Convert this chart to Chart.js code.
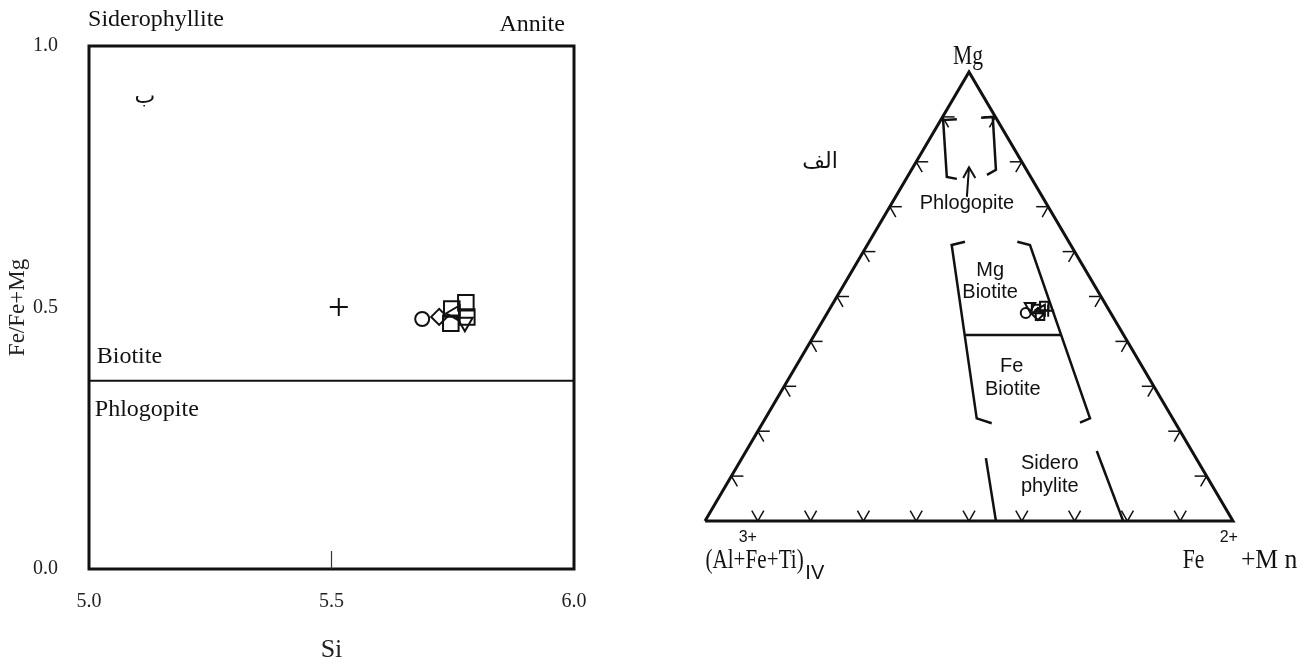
<!DOCTYPE html>
<html><head><meta charset="utf-8">
<script src="https://cdn.jsdelivr.net/npm/chart.js@4.4.1/dist/chart.umd.min.js"></script>
<style>
html,body{margin:0;padding:0;background:#fff;width:1307px;height:666px;overflow:hidden}
#c1{position:absolute;left:0;top:0}
#c2{position:absolute;left:640px;top:0}
</style></head><body>
<canvas id="c1" width="640" height="666"></canvas>
<canvas id="c2" width="667" height="666"></canvas>
<script>
// ===== Left panel: Si vs Fe/(Fe+Mg) =====
const siTicks = [5.0, 5.5, 6.0];
const feTicks = [0.0, 0.5, 1.0];
const biotiteBoundary = 0.36;
const circleSi = [5.687],  circleFe = [0.478];
const diamondSi = [5.722], diamondFe = [0.482];
const squareSi = [5.748, 5.777, 5.746, 5.779], squareFe = [0.497, 0.509, 0.470, 0.482];
const leftTriSi = [5.755], leftTriFe = [0.489];
const downTriSi = [5.775], downTriFe = [0.472];
const plusSi = [5.515], plusFe = [0.501];

// ===== Right panel: ternary Mg – (Al+Fe3+ +Ti)IV – Fe2+ +Mn =====
// each sample: [Mg, Fe2+Mn, AlFeTi]
const circleTern  = [[0.463, 0.376, 0.161]];
const downTriTern = [[0.479, 0.376, 0.145]];
const squareTern  = [[0.472, 0.391, 0.137], [0.479, 0.403, 0.118], [0.457, 0.406, 0.137]];
const diamondTern = [[0.461, 0.400, 0.139]];
const leftTriTern = [[0.470, 0.403, 0.127]];
const plusTern    = [[0.468, 0.416, 0.116]];
const edgeTicks = [0.1, 0.2, 0.3, 0.4, 0.5, 0.6, 0.7, 0.8, 0.9];
// field outlines in diagram coordinates (x along base, y = height fraction)
const triangleOutline = [[0,0],[1,0],[0.5,1],[0,0]];
const phlogLeft  = [[0.477,0.895],[0.451,0.893],[0.458,0.766],[0.477,0.762]];
const phlogRight = [[0.523,0.898],[0.545,0.900],[0.551,0.782],[0.534,0.771]];
const phlogArrowShaft = [[0.496,0.722],[0.500,0.788]];
const phlogArrowHead  = [[0.489,0.764],[0.500,0.788],[0.512,0.764]];
const biotiteLeft  = [[0.4924,0.6221],[0.4672,0.6147],[0.5146,0.2287],[0.5430,0.2176]];
const biotiteRight = [[0.5915,0.6221],[0.6155,0.6147],[0.7292,0.2287],[0.7102,0.2189]];
const biotiteDivider = [[0.4928,0.4143],[0.6742,0.4143]];
const sideroLeft  = [[0.532,0.140],[0.551,0.0]];
const sideroRight = [[0.742,0.156],[0.792,0.0]];

const SERIF = '"Liberation Serif", "Times New Roman", serif';
const SANS = '"Liberation Sans", Arial, sans-serif';
const ARAB = '"DejaVu Sans", "Noto Sans", sans-serif';

function pts(xs, ys){ return xs.map((v,i)=>({x:v, y:ys[i]})); }
function tern(arr){ return arr.map(([mg,fe])=>({x: fe + mg/2, y: mg})); }
function xy(arr){ return arr.map(([a,b])=>({x:a, y:b})); }

function drawText(ctx, t, px, py, o){
  ctx.save();
  ctx.font = o.font;
  ctx.fillStyle = '#111';
  ctx.textBaseline = 'middle';
  ctx.textAlign = o.align || 'left';
  ctx.translate(px, py);
  ctx.scale(o.sx || 1, 1);
  ctx.fillText(t, 0, 0);
  ctx.restore();
}

function marker(data, style, r, rot){
  return {type:'scatter', data, pointStyle: style, pointRadius: r, pointRotation: rot||0,
    borderColor:'#111', backgroundColor:'rgba(0,0,0,0)', pointBorderWidth: 2, borderWidth:2, clip:false};
}
function line(data, w){
  return {type:'scatter', data, showLine:true, borderColor:'#111', borderWidth:w||2, pointRadius:0, fill:false, clip:false};
}

// ---- left labels (data coords) ----
const leftLabels = [
  {t:'Siderophyllite', x:4.998, y:1.050, font:'24px '+SERIF, align:'left'},
  {t:'Annite', x:5.981, y:1.040, font:'24px '+SERIF, align:'right'},
  {t:'ب', x:5.115, y:0.902, font:'22px '+ARAB, align:'center'},
  {t:'Biotite', x:5.016, y:0.405, font:'24px '+SERIF, align:'left'},
  {t:'Phlogopite', x:5.012, y:0.304, font:'24px '+SERIF, align:'left'}
];

const leftPlugin = {
  id:'leftDeco',
  afterDatasetsDraw(chart){
    const {ctx, chartArea:a, scales:{x,y}} = chart;
    ctx.save();
    ctx.strokeStyle = '#111'; ctx.lineWidth = 3;
    ctx.strokeRect(a.left, a.top, a.right-a.left, a.bottom-a.top);
    const tx = x.getPixelForValue(siTicks[1]);
    ctx.lineWidth = 1.2; ctx.strokeStyle = '#333';
    ctx.beginPath(); ctx.moveTo(tx, a.bottom - 18); ctx.lineTo(tx, a.bottom); ctx.stroke();
    ctx.restore();
    leftLabels.forEach(l => drawText(ctx, l.t, x.getPixelForValue(l.x), y.getPixelForValue(l.y), l));
  }
};

new Chart(document.getElementById('c1'), {
  type:'scatter',
  data:{datasets:[
    line([{x:siTicks[0], y:biotiteBoundary},{x:siTicks[2], y:biotiteBoundary}], 2),
    marker(pts(circleSi, circleFe), 'circle', 7),
    marker(pts(diamondSi, diamondFe), 'rectRot', 8),
    marker(pts(squareSi, squareFe), 'rect', 11),
    marker(pts(leftTriSi, leftTriFe), 'triangle', 9, -90),
    marker(pts(downTriSi, downTriFe), 'triangle', 9, 180),
    marker(pts(plusSi, plusFe), 'cross', 9)
  ]},
  options:{
    responsive:false, animation:false, devicePixelRatio:1,
    layout:{padding:{left:0, top:46, right:66, bottom:0}},
    plugins:{legend:{display:false}, tooltip:{enabled:false}},
    scales:{
      x:{type:'linear', min:5, max:6,
        afterBuildTicks: s => { s.ticks = siTicks.map(v=>({value:v})); },
        afterFit: s => { s.height = 97; },
        grid:{display:false, drawTicks:false}, border:{display:false},
        ticks:{padding:21, color:'#222', font:{family:SERIF, size:20}, callback:v=>Number(v).toFixed(1)},
        title:{display:true, text:'Si', color:'#222', font:{family:SERIF, size:26}, padding:{top:0,bottom:0}}
      },
      y:{type:'linear', min:0, max:1,
        afterBuildTicks: s => { s.ticks = feTicks.map(v=>({value:v})); },
        afterFit: s => { s.width = 89; },
        grid:{display:false, drawTicks:false}, border:{display:false},
        ticks:{padding:31, color:'#222', font:{family:SERIF, size:20}, callback:v=>Number(v).toFixed(1)},
        title:{display:true, text:'Fe/Fe+Mg', color:'#222', font:{family:SERIF, size:23}, padding:{top:4,bottom:0}}
      }
    }
  },
  plugins:[leftPlugin]
});

// ---- right labels (diagram coords) ----
const rightLabels = [
  {t:'Mg', x:0.498, y:1.033, font:'27px '+SERIF, align:'center', sx:0.8},
  {t:'الف', x:0.218, y:0.800, font:'22px '+ARAB, align:'center'},
  {t:'Phlogopite', x:0.496, y:0.708, font:'20px '+SANS, align:'center'},
  {t:'Mg', x:0.540, y:0.559, font:'20px '+SANS, align:'center'},
  {t:'Biotite', x:0.540, y:0.508, font:'20px '+SANS, align:'center'},
  {t:'Fe', x:0.581, y:0.345, font:'20px '+SANS, align:'center'},
  {t:'Biotite', x:0.583, y:0.292, font:'20px '+SANS, align:'center'},
  {t:'Sidero', x:0.653, y:0.129, font:'20px '+SANS, align:'center'},
  {t:'phylite', x:0.653, y:0.076, font:'20px '+SANS, align:'center'},
  {t:'(Al+Fe', x:0.001, y:-0.089, font:'27px '+SERIF, align:'left', sx:0.78},
  {t:'3+', x:0.081, y:-0.036, font:'16px '+SANS, align:'center'},
  {t:'+Ti)', x:0.117, y:-0.089, font:'27px '+SERIF, align:'left', sx:0.78},
  {t:'IV', x:0.190, y:-0.116, font:'20px '+SANS, align:'left'},
  {t:'Fe', x:0.905, y:-0.089, font:'27px '+SERIF, align:'left', sx:0.8},
  {t:'2+', x:0.992, y:-0.036, font:'16px '+SANS, align:'center'},
  {t:'+M n', x:1.122, y:-0.089, font:'27px '+SERIF, align:'right', sx:0.95}
];

const rightPlugin = {
  id:'ternDeco',
  afterDatasetsDraw(chart){
    const {ctx, scales:{x,y}} = chart;
    ctx.save();
    ctx.strokeStyle = '#111'; ctx.lineWidth = 1.5;
    const L = 12, h = L*0.866;
    const seg = (px,py,dx,dy)=>{ ctx.beginPath(); ctx.moveTo(px,py); ctx.lineTo(px+dx,py+dy); ctx.stroke(); };
    edgeTicks.forEach(f=>{
      let px = x.getPixelForValue(f), py = y.getPixelForValue(0);
      seg(px,py,-L/2,-h); seg(px,py,L/2,-h);
      px = x.getPixelForValue(f/2); py = y.getPixelForValue(f);
      seg(px,py,L,0); seg(px,py,L/2,h);
      px = x.getPixelForValue(1-f/2); py = y.getPixelForValue(f);
      seg(px,py,-L,0); seg(px,py,-L/2,h);
    });
    ctx.restore();
    rightLabels.forEach(l => drawText(ctx, l.t, x.getPixelForValue(l.x), y.getPixelForValue(l.y), l));
  }
};

new Chart(document.getElementById('c2'), {
  type:'scatter',
  data:{datasets:[
    line(xy(triangleOutline), 3),
    line(xy(phlogLeft), 2.5), line(xy(phlogRight), 2.5),
    line(xy(phlogArrowShaft), 2), line(xy(phlogArrowHead), 2),
    line(xy(biotiteLeft), 2.5), line(xy(biotiteRight), 2.5), line(xy(biotiteDivider), 2.5),
    line(xy(sideroLeft), 2.5), line(xy(sideroRight), 2.5),
    marker(tern(circleTern), 'circle', 5),
    marker(tern(downTriTern), 'triangle', 6, 180),
    marker(tern(squareTern), 'rect', 6),
    marker(tern(diamondTern), 'rectRot', 6),
    marker(tern(leftTriTern), 'triangle', 6, -90),
    marker(tern(plusTern), 'cross', 6)
  ]},
  options:{
    responsive:false, animation:false, devicePixelRatio:1,
    layout:{padding:{left:65, top:72, right:74, bottom:145}},
    plugins:{legend:{display:false}, tooltip:{enabled:false}},
    scales:{
      x:{type:'linear', min:0, max:1, display:false},
      y:{type:'linear', min:0, max:1, display:false}
    }
  },
  plugins:[rightPlugin]
});
</script>
</body></html>
